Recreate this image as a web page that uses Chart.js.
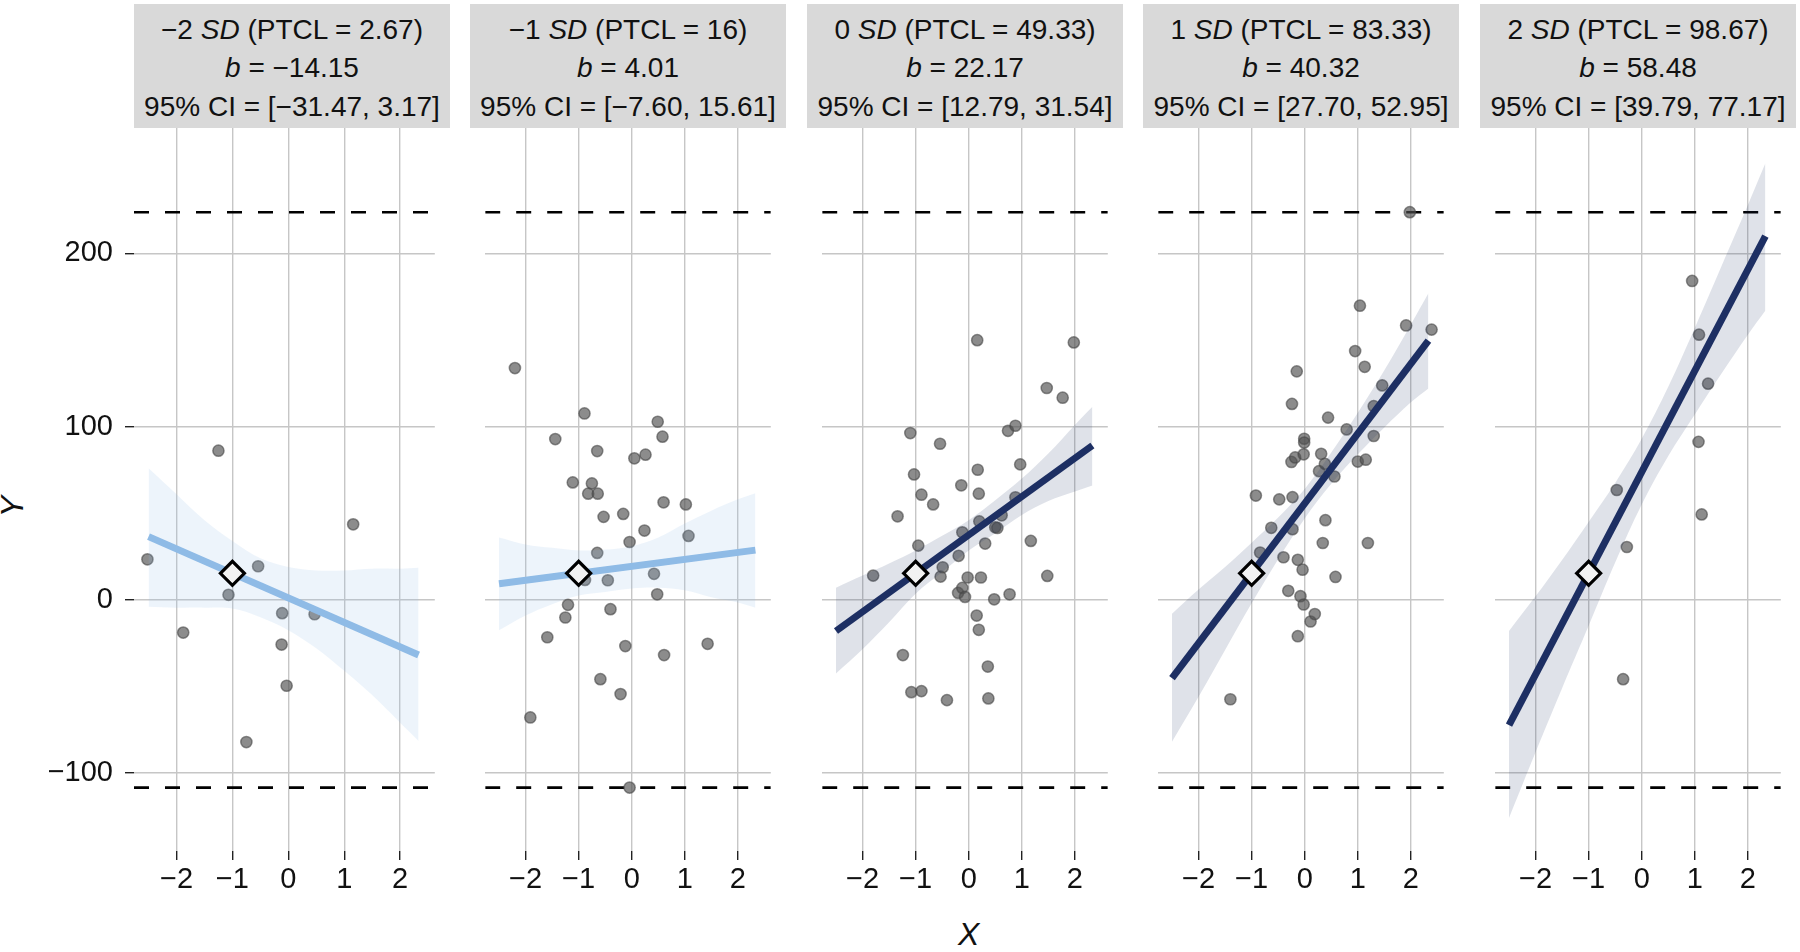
<!DOCTYPE html>
<html>
<head>
<meta charset="utf-8">
<script src="https://cdn.jsdelivr.net/npm/chart.js@4.4.0/dist/chart.umd.min.js"></script>
<style>
  body { margin: 0; background: #fff; }
  #wrap { position: relative; width: 1800px; height: 952px; overflow: hidden;
          font-family: "Liberation Sans", Arial, sans-serif; color: #111; }
  .strip { position: absolute; top: 4px; height: 124px; background: #d9d9d9;
           font-size: 28px; line-height: 38.3px; text-align: center;
           box-sizing: border-box; padding-top: 7px; white-space: nowrap; }
  .box { position: absolute; top: 0; height: 952px; }
  .ttl { position: absolute; font-size: 32px; font-style: italic; }
</style>
</head>
<body>
<div id="wrap">
  <div class="ttl" style="left:2px; top:488px; transform: rotate(-90deg);">Y</div>
  <div class="ttl" style="left:958px; top:916px;">X</div>
</div>
<script>
// facet labels
var sdLevels = ['\u22122', '\u22121', '0', '1', '2'];
var ptcl = ['2.67', '16', '49.33', '83.33', '98.67'];
var slopes = ['\u221214.15', '4.01', '22.17', '40.32', '58.48'];
var ciLow = ['\u221231.47', '\u22127.60', '12.79', '27.70', '39.79'];
var ciHigh = ['3.17', '15.61', '31.54', '52.95', '77.17'];

// observed Y range (dashed lines)
var yObsMax = 223.8;
var yObsMin = -108.4;

// points, one pair of arrays per panel
var x1 = [-2.52, -1.88, -1.25, -1.07, -0.54, -0.75, -0.11, -0.12, -0.03, 0.47, 1.16];
var y1 = [23.4, -18.9, 86.1, 2.9, 19.4, -82.1, -7.7, -25.8, -49.6, -8.3, 43.6];

var x2 = [-2.2, -1.91, -1.59, -1.44, -1.25, -1.2, -1.11, -0.89, -0.88, -0.82, -0.75, -0.65, -0.64, -0.65, -0.59, -0.53, -0.45, -0.4, -0.21, -0.16, -0.12, -0.04, 0.05, 0.24, 0.26, 0.42, 0.48, 0.49, 0.58, 0.6, 0.61, 1.02, 1.07, 1.43, -0.04];
var y2 = [133.8, -67.9, -21.6, 92.8, -10.2, -2.9, 67.8, 107.6, 11.5, 61.3, 67.2, 27.1, 61.3, 85.9, -45.8, 47.9, 11.3, -5.4, -54.4, 49.6, -26.7, 33.4, 81.7, 40, 83.8, 15, 3.2, 102.8, 94.2, 56.3, -31.9, 55.1, 36.9, -25.4, -108.4];

var x3 = [-1.8, -1.34, -1.24, -1.1, -1.08, -1.03, -0.95, -0.89, -0.89, -0.67, -0.54, -0.53, -0.49, -0.41, -0.19, -0.14, -0.12, -0.2, -0.12, -0.07, -0.02, 0.15, 0.16, 0.17, 0.19, 0.19, 0.2, 0.23, 0.31, 0.36, 0.37, 0.48, 0.5, 0.54, 0.62, 0.74, 0.77, 0.88, 0.88, 0.97, 1.17, 1.47, 1.48, 1.77, 1.98];
var y3 = [14, 48.2, -31.9, 96.3, -53.3, 72.4, 31.3, -52.7, 60.7, 55.1, 90.1, 13.4, 18.8, -57.9, 25.4, 66.1, 39, 4, 6.9, 1.7, 12.9, -9.1, 149.9, 75.1, 61.3, -17.3, 45.3, 12.9, 32.5, -38.5, -56.9, 0.3, 41.9, 41.5, 48.8, 97.6, 3.2, 100.5, 59.2, 78.2, 34, 122.3, 13.8, 116.7, 148.6];

var x4 = [-1.4, -0.92, -0.84, -0.63, -0.48, -0.4, -0.31, -0.25, -0.24, -0.23, -0.23, -0.18, -0.15, -0.13, -0.13, -0.08, -0.04, -0.02, -0.02, -0.01, -0.01, 0.11, 0.19, 0.27, 0.31, 0.34, 0.38, 0.39, 0.44, 0.56, 0.58, 0.79, 0.95, 1.0, 1.04, 1.13, 1.15, 1.19, 1.3, 1.3, 1.46, 1.91, 1.98, 2.39];
var y4 = [-57.4, 60.2, 27.3, 41.6, 58, 24.6, 5.2, 79.6, 113.1, 59.3, 40.8, 82.2, 131.9, 23.1, -21, 2.1, 17.4, 84, -2.7, 93, 90.8, -12.5, -8.2, 74.3, 84.3, 32.8, 78.5, 46, 105.2, 71.2, 13.2, 98.4, 143.6, 79.8, 169.8, 134.5, 80.9, 32.8, 94.6, 111.8, 123.8, 158.4, 223.8, 156];

var x5 = [-0.47, -0.35, -0.28, 0.95, 1.07, 1.08, 1.13, 1.25];
var y5 = [63.4, -45.8, 30.5, 184.1, 91.2, 153.1, 49.3, 124.8];

// fitted lines (ends) and 95% CI band read at bandX
var lineX = [-2.5, 2.33];
var line1 = [36.5, -31.8];
var line2 = [9.3, 28.7];
var line3 = [-18, 89.1];
var line4 = [-45.2, 149.6];
var line5 = [-72.4, 210];

var bandX = [-2.5, -2, -1.5, -1, -0.5, 0, 0.5, 1, 1.5, 2, 2.33];
var up1 = [76, 61, 46, 34, 24, 19, 17, 17, 18, 18, 18.5];
var lo1 = [-4, -4.5, -4.5, -5, -10, -17.5, -28, -41, -55, -71, -81.5];
var up2 = [36, 32, 30, 28.5, 29, 31, 36, 44, 51.5, 58, 61.5];
var lo2 = [-17.5, -9, -2.5, 2.5, 4.5, 6.5, 7, 5.5, 1.5, -1.5, -4.5];
var up3 = [7, 14, 21, 28.5, 37, 46, 57.5, 70, 84.5, 101, 111.5];
var lo3 = [-42.5, -28.5, -13, 3.5, 16, 28.5, 38.5, 49, 57, 62.5, 66];
var up4 = [-8, 6, 19, 33, 47.5, 64, 85, 108, 132.5, 159, 177];
var lo4 = [-82, -56, -29, -2, 23.5, 47, 67, 84, 99.5, 114, 122];
var up5 = [-18, 2, 23, 45, 67.5, 93, 123, 157, 192.5, 228, 252];
var lo5 = [-126, -88, -51, -15, 21.5, 55, 83, 107, 130.5, 153, 167];

// simple-slope point at X = -1
var markX = -1;
var markY = 15.3;

var xTicks = [-2, -1, 0, 1, 2];
var yTicks = [-100, 0, 100, 200];

var panels = [
  { px: x1, py: y1, line: line1, up: up1, lo: lo1, light: true },
  { px: x2, py: y2, line: line2, up: up2, lo: lo2, light: true },
  { px: x3, py: y3, line: line3, up: up3, lo: lo3, light: false },
  { px: x4, py: y4, line: line4, up: up4, lo: lo4, light: false },
  { px: x5, py: y5, line: line5, up: up5, lo: lo5, light: false }
];

var lefts = [134, 470, 807, 1143, 1480];
var panelW = 316;
var xMin = -2.76, xMax = 2.62;
var yMin = -145, yMax = 272.4;

Chart.defaults.font.family = '"Liberation Sans", Arial, sans-serif';
Chart.defaults.color = '#111';

function zip(xs, ys) {
  return xs.map(function (x, i) { return { x: x, y: ys[i] }; });
}
function fmt(v) {
  return v < 0 ? '\u2212' + Math.abs(v) : String(v);
}

var wrap = document.getElementById('wrap');

panels.forEach(function (p, i) {
  var strip = document.createElement('div');
  strip.className = 'strip';
  strip.style.left = lefts[i] + 'px';
  strip.style.width = panelW + 'px';
  strip.innerHTML = sdLevels[i] + ' <i>SD</i> (PTCL = ' + ptcl[i] + ')<br>' +
    '<i>b</i> = ' + slopes[i] + '<br>' +
    '95% CI = [' + ciLow[i] + ', ' + ciHigh[i] + ']';
  wrap.appendChild(strip);

  var first = i === 0;
  var box = document.createElement('div');
  box.className = 'box';
  box.style.left = (first ? 0 : lefts[i]) + 'px';
  box.style.width = (first ? lefts[0] + panelW : panelW) + 'px';
  var cv = document.createElement('canvas');
  box.appendChild(cv);
  wrap.appendChild(box);

  var lineCol = p.light ? '#8fbbe6' : '#1d2f63';
  var bandCol = p.light ? 'rgba(143,187,230,0.16)' : 'rgba(30,48,100,0.14)';

  new Chart(cv, {
    type: 'scatter',
    data: {
      datasets: [
        { data: [{ x: xMin, y: yObsMax }, { x: xMax, y: yObsMax }], showLine: true,
          borderColor: '#000', borderWidth: 2.6, borderDash: [15, 16], pointRadius: 0, order: 6 },
        { data: [{ x: xMin, y: yObsMin }, { x: xMax, y: yObsMin }], showLine: true,
          borderColor: '#000', borderWidth: 2.6, borderDash: [15, 16], pointRadius: 0, order: 6 },
        { data: zip(p.px, p.py), pointRadius: 5.6, pointBorderWidth: 1.5,
          backgroundColor: 'rgba(80,80,80,0.66)', borderColor: 'rgba(70,70,70,0.6)', order: 5 },
        { data: zip(bandX, p.up), showLine: true, borderWidth: 0, pointRadius: 0,
          tension: 0.35, fill: '+1', backgroundColor: bandCol, order: 4 },
        { data: zip(bandX, p.lo), showLine: true, borderWidth: 0, pointRadius: 0,
          tension: 0.35, order: 4 },
        { data: zip(lineX, p.line), showLine: true, borderColor: lineCol, borderWidth: 7,
          pointRadius: 0, order: 3 },
        { data: [{ x: markX, y: markY }], pointStyle: 'rectRot', pointRadius: 12,
          backgroundColor: '#f2f2f2', borderColor: '#000', pointBorderWidth: 3.2, order: 1 }
      ]
    },
    options: {
      responsive: true,
      maintainAspectRatio: false,
      animation: false,
      events: [],
      layout: { padding: { top: 128, left: 0, right: 0, bottom: 0 } },
      plugins: { legend: { display: false }, tooltip: { enabled: false } },
      scales: {
        x: {
          type: 'linear', min: xMin, max: xMax,
          afterBuildTicks: function (s) { s.ticks = xTicks.map(function (v) { return { value: v }; }); },
          afterFit: function (s) { s.height = 101; },
          grid: { color: '#c6c6c6', lineWidth: 1.4, tickColor: '#222', tickLength: 9, tickWidth: 1.4 },
          border: { display: false },
          ticks: { font: { size: 29 }, color: '#111', padding: 3, maxRotation: 0,
                   callback: function (v) { return fmt(v); } }
        },
        y: {
          type: 'linear', min: yMin, max: yMax,
          afterBuildTicks: function (s) { s.ticks = yTicks.map(function (v) { return { value: v }; }); },
          afterFit: function (s) { s.width = first ? lefts[0] : 0; },
          grid: { color: '#c6c6c6', lineWidth: 1.4, tickColor: '#222', tickLength: 9, tickWidth: 1.4,
                  drawTicks: first },
          border: { display: false },
          ticks: { display: first, font: { size: 29 }, color: '#111', padding: 12,
                   callback: function (v) { return fmt(v); } }
        }
      }
    }
  });
});
</script>
</body>
</html>
